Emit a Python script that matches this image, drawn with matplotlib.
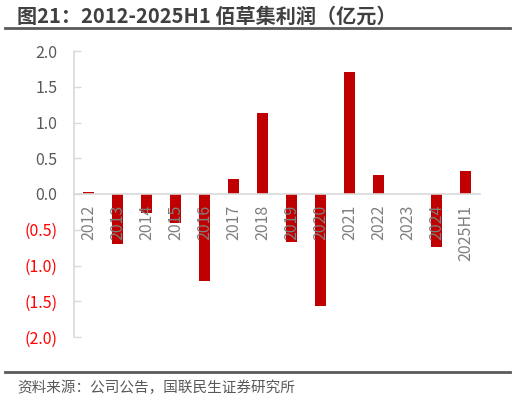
import matplotlib
matplotlib.use("Agg")
import matplotlib.pyplot as plt
from matplotlib.lines import Line2D

plt.rcParams['font.family'] = ['Noto Sans CJK SC', 'DejaVu Sans']

categories = ['2012', '2013', '2014', '2015', '2016', '2017', '2018',
              '2019', '2020', '2021', '2022', '2023', '2024', '2025H1']
profit = [0.03, -0.70, -0.27, -0.40, -1.21, 0.21, 1.13,
          -0.67, -1.57, 1.70, 0.27, 0.0, -0.74, 0.32]
y_ticks = [2.0, 1.5, 1.0, 0.5, 0.0, -0.5, -1.0, -1.5, -2.0]

title = '图21：2012-2025H1 佰草集利润（亿元）'
source = '资料来源：公司公告，国联民生证券研究所'

fig = plt.figure(figsize=(5.15, 4.0), dpi=100)
ax = fig.add_axes([74/515, 1-337/400, 406/515, 286/400])
ax.set_axisbelow(False)

x = list(range(len(categories)))
ax.bar(x, profit, width=0.4, color='#C00000', zorder=2)

ax.set_xlim(-0.5, len(categories) - 0.5)
ax.set_ylim(-2.0, 2.0)
ax.set_yticks(y_ticks)

def fmt(v):
    if v < 0:
        return '({:.1f})'.format(-v)
    return '{:.1f}'.format(v)

ax.set_yticklabels([fmt(v) for v in y_ticks])
for lab, v in zip(ax.get_yticklabels(), y_ticks):
    lab.set_color('#FF0000' if v < 0 else '#595959')
ax.tick_params(axis='y', direction='in', length=5, width=1, color='#D9D9D9',
               labelsize=11.5, pad=12)

ax.spines['bottom'].set_position(('data', 0))
ax.spines['bottom'].set_color('#D9D9D9')
ax.spines['bottom'].set_linewidth(1.2)
ax.spines['left'].set_color('#D9D9D9')
ax.spines['left'].set_linewidth(1.2)
ax.spines['top'].set_visible(False)
ax.spines['right'].set_visible(False)

ax.set_xticks(x)
ax.set_xticklabels(categories, rotation=90, va='top', ha='center')
ax.tick_params(axis='x', length=0, labelsize=11.5, pad=8, labelcolor='#7F7F7F')

fig.text(17/515, 1-16/400, title, fontsize=14.5, fontweight='bold',
         color='#404040', va='center', ha='left')
fig.add_artist(Line2D([5/515, 510/515], [1-28/400, 1-28/400],
                      color='#595959', linewidth=2))
fig.add_artist(Line2D([5/515, 510/515], [1-372/400, 1-372/400],
                      color='#595959', linewidth=2))
fig.text(17/515, 1-388/400, source, fontsize=10.5, color='#595959',
         va='center', ha='left')

fig.savefig('out.png', dpi=100)
